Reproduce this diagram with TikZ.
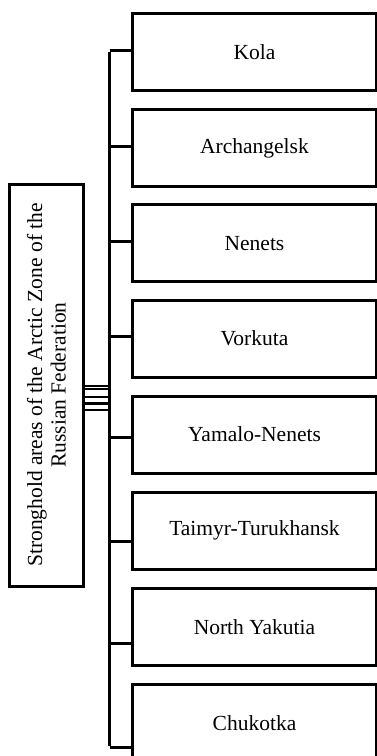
\documentclass[tikz,border=0pt]{standalone}
\usepackage{fontspec}
\setmainfont{Liberation Serif}
\begin{document}
\begin{tikzpicture}[x=1pt,y=-1pt,
  line width=3pt,
  region/.style={draw, minimum width=244pt, minimum height=77pt, anchor=north west,
    inner sep=0pt, font=\fontsize{21.5}{24}\selectfont},
  rootbox/.style={draw, rotate=90, minimum width=402pt, minimum height=74.5pt,
    inner sep=0pt, align=center, font=\fontsize{21.5}{23.5}\selectfont},
  link/.style={line width=3pt}]
\useasboundingbox (0,0) rectangle (376,756);

% root block (vertical text)
\node[rootbox] (root) at (46.3,385) {Stronghold areas of the Arctic Zone of the\\Russian Federation};

% regional blocks
\node[region] (b1) at (131,12.3)  {Kola};
\node[region] (b2) at (131,108.3) {Archangelsk};
\node[region] (b3) at (131,203.3) {Nenets};
\node[region] (b4) at (131,298.5) {Vorkuta};
\node[region] (b5) at (131,394.5) {Yamalo-Nenets};
\node[region] (b6) at (131,490.5) {Taimyr-Turukhansk};
\node[region] (b7) at (131,586.7) {North Yakutia};
\node[region] (b8) at (131,682.7) {Chukotka};

% junctions on the bus
\coordinate (j1) at (109.5,50.7);
\coordinate (j2) at (109.5,146);
\coordinate (j3) at (109.5,241.7);
\coordinate (j4) at (109.5,336.7);
\coordinate (j5) at (109.5,437.3);
\coordinate (j6) at (109.5,541);
\coordinate (j7) at (109.5,643.7);
\coordinate (j8) at (109.5,747);

% bus
\draw[link] ([yshift=-1.5pt]j1) -- ([yshift=1.5pt]j8);
\foreach \i in {1,...,8}
  \draw[link] (j\i) -- (j\i -| b\i.west);

% ties from the root block to the bus
\foreach \y in {386,389,397,403.5,410}{
  \coordinate (t) at (109.5,\y);
  \draw[line width=2.6pt] (root.south |- t) -- (t);
}
\end{tikzpicture}
\end{document}
